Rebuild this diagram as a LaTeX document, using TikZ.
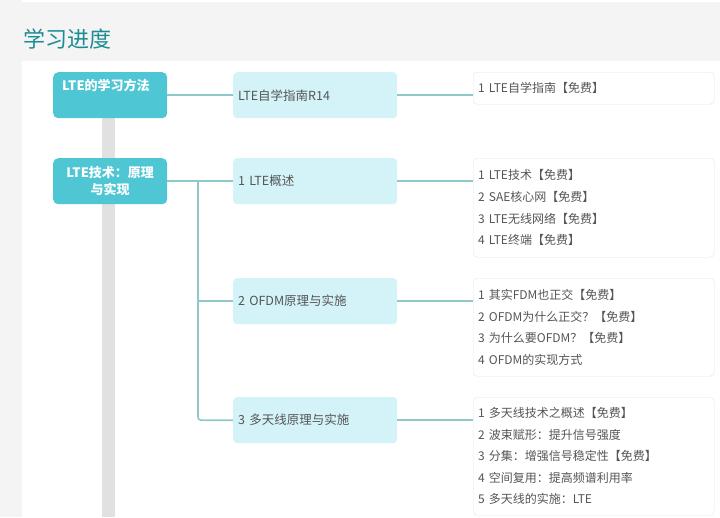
\documentclass[tikz,border=0pt]{standalone}
\usepackage{fontspec}
\setmainfont{Noto Sans CJK SC}
\usetikzlibrary{positioning}
\definecolor{cbg}{HTML}{F4F4F4}
\definecolor{ctitle}{HTML}{1C8C93}
\definecolor{ccyan}{HTML}{4EC6D4}
\definecolor{clight}{HTML}{D4F3F8}
\definecolor{cline}{HTML}{8EC9C9}
\definecolor{cbar}{HTML}{E1E1E1}
\definecolor{cedge}{HTML}{E4E4E4}
\definecolor{ctext}{HTML}{555555}
\tikzset{
  every picture/.style={x=1pt, y=-1pt},
  topic/.style={fill=ccyan, rounded corners=5pt, text=white, font=\fontsize{13}{17}\selectfont\bfseries, minimum width=114pt, minimum height=46pt, inner sep=0pt, align=center, anchor=north west},
  chapter/.style={fill=clight, rounded corners=4pt, text=ctext, font=\fontsize{12.5}{15}\selectfont, text width=154pt, inner xsep=5pt, inner ysep=0pt, minimum height=46pt, align=left, anchor=north west},
  lessons/.style={draw=cedge, fill=white, rounded corners=4pt, text=ctext, font=\fontsize{12}{21.6}\selectfont, text width=231pt, inner xsep=5pt, inner ysep=0pt, align=left, anchor=north west},
  link/.style={draw=cline, line width=1.6pt},
}

\begin{document}
\begin{tikzpicture}
  \useasboundingbox (0,0) rectangle (720,517);
  \fill[cbg] (0,0) rectangle (720,517);
  \fill[white] (22,0) rectangle (720,2);
  \fill[white] (22,61) rectangle (720,517);
  \fill[cbar] (102,118) rectangle (115,517);
  \node[anchor=west, text=ctitle, font=\fontsize{22}{26}\selectfont] (title) at (20,39) {学习进度};

  \node[topic, text width=96pt, align=left, text height=18pt, text depth=28pt] (method) at (53,72) {LTE的学习方法};
  \node[topic] (tech) at (53,158) {LTE技术：原理\\与实现};

  \node[chapter] (guide) at (233,72) {LTE自学指南R14};
  \node[chapter] (intro) at (233,158) {1 LTE概述};
  \node[chapter] (ofdm) at (233,278) {2 OFDM原理与实施};
  \node[chapter] (mimo) at (233,397) {3 多天线原理与实施};

  \node[lessons, minimum height=32pt] (guideList) at (473,72) {1 LTE自学指南【免费】};
  \node[lessons, minimum height=99pt] (introList) at (473,158) {1 LTE技术【免费】\\2 SAE核心网【免费】\\3 LTE无线网络【免费】\\4 LTE终端【免费】};
  \node[lessons, minimum height=98pt] (ofdmList) at (473,278) {1 其实FDM也正交【免费】\\2 OFDM为什么正交？【免费】\\3 为什么要OFDM？【免费】\\4 OFDM的实现方式};
  \node[lessons, minimum height=118pt] (mimoList) at (473,397) {1 多天线技术之概述【免费】\\2 波束赋形：提升信号强度\\3 分集：增强信号稳定性【免费】\\4 空间复用：提高频谱利用率\\5 多天线的实施：LTE};

  \coordinate (fork) at (198,181);
  \draw[link] (method) -- (guide);
  \draw[link] (guide.east) -- (guide.east -| guideList.west);
  \draw[link] (tech) -- (intro);
  \draw[link] (fork) |- (ofdm.west);
  \draw[link, rounded corners=3pt] (fork) |- (mimo.west);
  \draw[link] (intro.east) -- (intro.east -| introList.west);
  \draw[link] (ofdm.east) -- (ofdm.east -| ofdmList.west);
  \draw[link] (mimo.east) -- (mimo.east -| mimoList.west);
\end{tikzpicture}
\end{document}
